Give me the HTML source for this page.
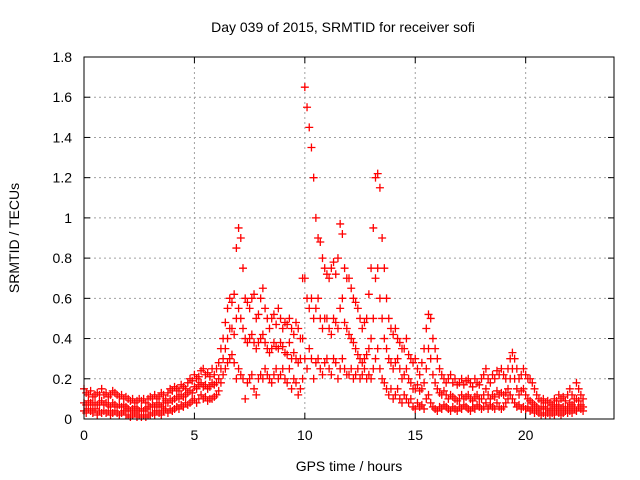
<!DOCTYPE html>
<html><head><meta charset="utf-8"><style>
body{margin:0;background:#fff;}
svg{display:block;font-family:"Liberation Sans",sans-serif;}
</style></head><body>
<svg id="chart" width="640" height="480">
<text x="343" y="32" text-anchor="middle" font-size="14">Day 039 of 2015, SRMTID for receiver sofi</text>
<text x="349" y="471" text-anchor="middle" font-size="14">GPS time / hours</text>
<text transform="translate(19,238) rotate(-90)" text-anchor="middle" font-size="14">SRMTID / TECUs</text>
<g id="grid"></g><g id="pts"></g><g id="axes"></g>
</svg>
<script>
const xTicks=[0,5,10,15,20];
const yTicks=[0,0.2,0.4,0.6,0.8,1,1.2,1.4,1.6,1.8];
const yTickLabels=["0","0.2","0.4","0.6","0.8","1","1.2","1.4","1.6","1.8"];
const tStep=0.1;
const hiVals=[.15,.13,.12,.14,.11,.12,.13,.12,.15,.12,.13,.11,.12,.14,.13,.12,.11,.12,.1,.11,.1,.09,.1,.08,.09,.1,.09,.1,.08,.1,.11,.1,.12,.1,.11,.13,.12,.1,.13,.15,.14,.16,.15,.14,.17,.16,.15,.18,.2,.19,.22,.2,.21,.24,.25,.22,.23,.21,.25,.22,.25,.28,.35,.4,.48,.55,.6,.58,.62,.85,.95,.9,.75,.6,.58,.55,.6,.62,.5,.52,.6,.65,.55,.5,.45,.5,.52,.47,.55,.5,.45,.48,.47,.5,.45,.42,.48,.45,.4,.7,1.65,1.55,1.45,1.35,1.2,1.0,.9,.88,.8,.75,.72,.7,.75,.78,.72,.8,.97,.92,.75,.7,.7,.65,.6,.58,.55,.5,.45,.48,.5,.62,.75,.95,1.2,1.22,1.15,.9,.75,.6,.5,.45,.42,.45,.4,.38,.35,.35,.4,.32,.3,.28,.3,.25,.22,.28,.35,.45,.52,.5,.4,.35,.3,.25,.22,.2,.18,.2,.22,.18,.2,.17,.18,.2,.17,.19,.2,.18,.16,.2,.18,.17,.2,.22,.25,.2,.18,.22,.2,.24,.22,.25,.22,.2,.25,.3,.33,.3,.25,.2,.22,.25,.22,.2,.2,.18,.15,.12,.1,.09,.1,.08,.09,.08,.07,.1,.09,.12,.1,.11,.09,.12,.15,.12,.1,.18,.15,.12,.1];
const midVals=[.08,.07,.09,.08,.07,.08,.07,.08,.09,.07,.08,.07,.06,.08,.07,.06,.07,.06,.07,.06,.05,.04,.05,.06,.05,.04,.05,.04,.05,.06,.06,.07,.06,.08,.07,.06,.08,.09,.08,.1,.09,.1,.11,.1,.12,.11,.12,.13,.14,.13,.16,.15,.17,.18,.16,.17,.15,.16,.18,.17,.18,.2,.25,.3,.35,.4,.45,.45,.42,.5,.55,.5,.45,.4,.38,.4,.42,.38,.35,.38,.4,.42,.38,.35,.33,.35,.38,.36,.35,.38,.36,.33,.32,.38,.3,.33,.3,.28,.3,.4,.7,.6,.55,.6,.5,.55,.6,.5,.45,.5,.5,.45,.42,.5,.48,.45,.55,.6,.48,.45,.42,.4,.38,.35,.32,.3,.28,.3,.32,.35,.4,.5,.7,.75,.6,.5,.4,.35,.3,.28,.25,.28,.3,.25,.2,.22,.25,.2,.18,.15,.15,.17,.14,.15,.18,.25,.35,.3,.22,.18,.15,.13,.12,.14,.12,.1,.12,.11,.1,.09,.1,.12,.1,.11,.12,.1,.09,.11,.12,.1,.1,.12,.15,.12,.1,.12,.11,.14,.12,.13,.12,.13,.15,.2,.25,.2,.15,.12,.14,.15,.12,.1,.09,.08,.07,.06,.05,.05,.06,.05,.05,.04,.05,.06,.05,.07,.05,.06,.05,.06,.08,.07,.06,.1,.09,.07,.06];
const loVals=[.04,.03,.05,.04,.03,.05,.02,.04,.03,.04,.03,.04,.02,.03,.04,.03,.02,.03,.04,.02,.02,.01,.02,.03,.01,.02,.01,.02,.01,.02,.02,.03,.02,.04,.03,.02,.04,.05,.03,.05,.04,.05,.06,.05,.07,.06,.08,.07,.08,.09,.1,.08,.1,.12,.1,.11,.09,.1,.1,.11,.12,.14,.18,.22,.25,.28,.3,.32,.28,.2,.25,.22,.2,.1,.18,.2,.22,.15,.12,.2,.22,.2,.25,.22,.2,.18,.22,.25,.2,.22,.25,.2,.18,.25,.15,.2,.18,.12,.15,.2,.3,.25,.35,.3,.2,.28,.3,.25,.22,.28,.3,.25,.22,.3,.28,.2,.25,.3,.25,.22,.22,.25,.2,.22,.25,.2,.22,.25,.2,.22,.2,.25,.3,.35,.25,.2,.18,.15,.12,.15,.1,.12,.15,.1,.08,.12,.1,.08,.1,.06,.05,.08,.06,.07,.05,.1,.12,.08,.06,.05,.04,.06,.05,.07,.06,.05,.04,.06,.05,.04,.06,.05,.07,.06,.05,.04,.06,.05,.07,.06,.05,.06,.08,.05,.07,.06,.05,.08,.06,.05,.06,.08,.1,.12,.1,.08,.06,.07,.05,.06,.05,.06,.04,.05,.03,.04,.03,.02,.03,.02,.03,.02,.03,.02,.04,.03,.02,.03,.04,.03,.04,.03,.05,.04,.06,.05,.04];

const X0=84,X1=614,Y0=419,Y1=57;
const xs=t=>X0+t*(X1-X0)/24;
const ys=v=>Y0-v*(Y0-Y1)/1.8;
const NS="http://www.w3.org/2000/svg";
function mk(tag,attrs,parent){const e=document.createElementNS(NS,tag);for(const k in attrs)e.setAttribute(k,attrs[k]);parent.appendChild(e);return e;}
const grid=document.getElementById('grid'),axes=document.getElementById('axes'),pts=document.getElementById('pts');
xTicks.forEach(t=>{
  const x=xs(t);
  if(t>0){const g=mk('line',{x1:x,x2:x,y1:Y0,y2:Y1,stroke:'#a0a0a0','stroke-dasharray':'2,3'},grid);
  
  }
  mk('line',{x1:x,x2:x,y1:Y0,y2:Y0-6,stroke:'#000'},axes);
  mk('line',{x1:x,x2:x,y1:Y1,y2:Y1+6,stroke:'#000'},axes);
  const l=mk('text',{x:x,y:Y0+21,'text-anchor':'middle','font-size':'14'},axes);l.textContent=t;
  
  
});
yTicks.forEach((v,i)=>{
  const y=ys(v);
  if(v>0&&v<1.8){const g=mk('line',{x1:X0,x2:X1,y1:y,y2:y,stroke:'#a0a0a0','stroke-dasharray':'2,3'},grid);
  
  }
  mk('line',{x1:X0,x2:X0+6,y1:y,y2:y,stroke:'#000'},axes);
  mk('line',{x1:X1,x2:X1-6,y1:y,y2:y,stroke:'#000'},axes);
  const l=mk('text',{x:X0-12,y:y+5,'text-anchor':'end','font-size':'14'},axes);l.textContent=yTickLabels[i];
  
  
});
const fr=mk('rect',{x:X0,y:Y1,width:X1-X0,height:Y0-Y1,fill:'none',stroke:'#000'},axes);


let d='';
[loVals,midVals,hiVals].forEach(arr=>{
  arr.forEach((v,i)=>{
    const x=xs(i*tStep),y=ys(v);
    d+=`M${x-4},${y}h8M${x},${y-4}v8`;
  });
});
const p=mk('path',{d:d,stroke:'#ff0000','stroke-width':'1.3',fill:'none'},pts);


</script>
</body></html>
